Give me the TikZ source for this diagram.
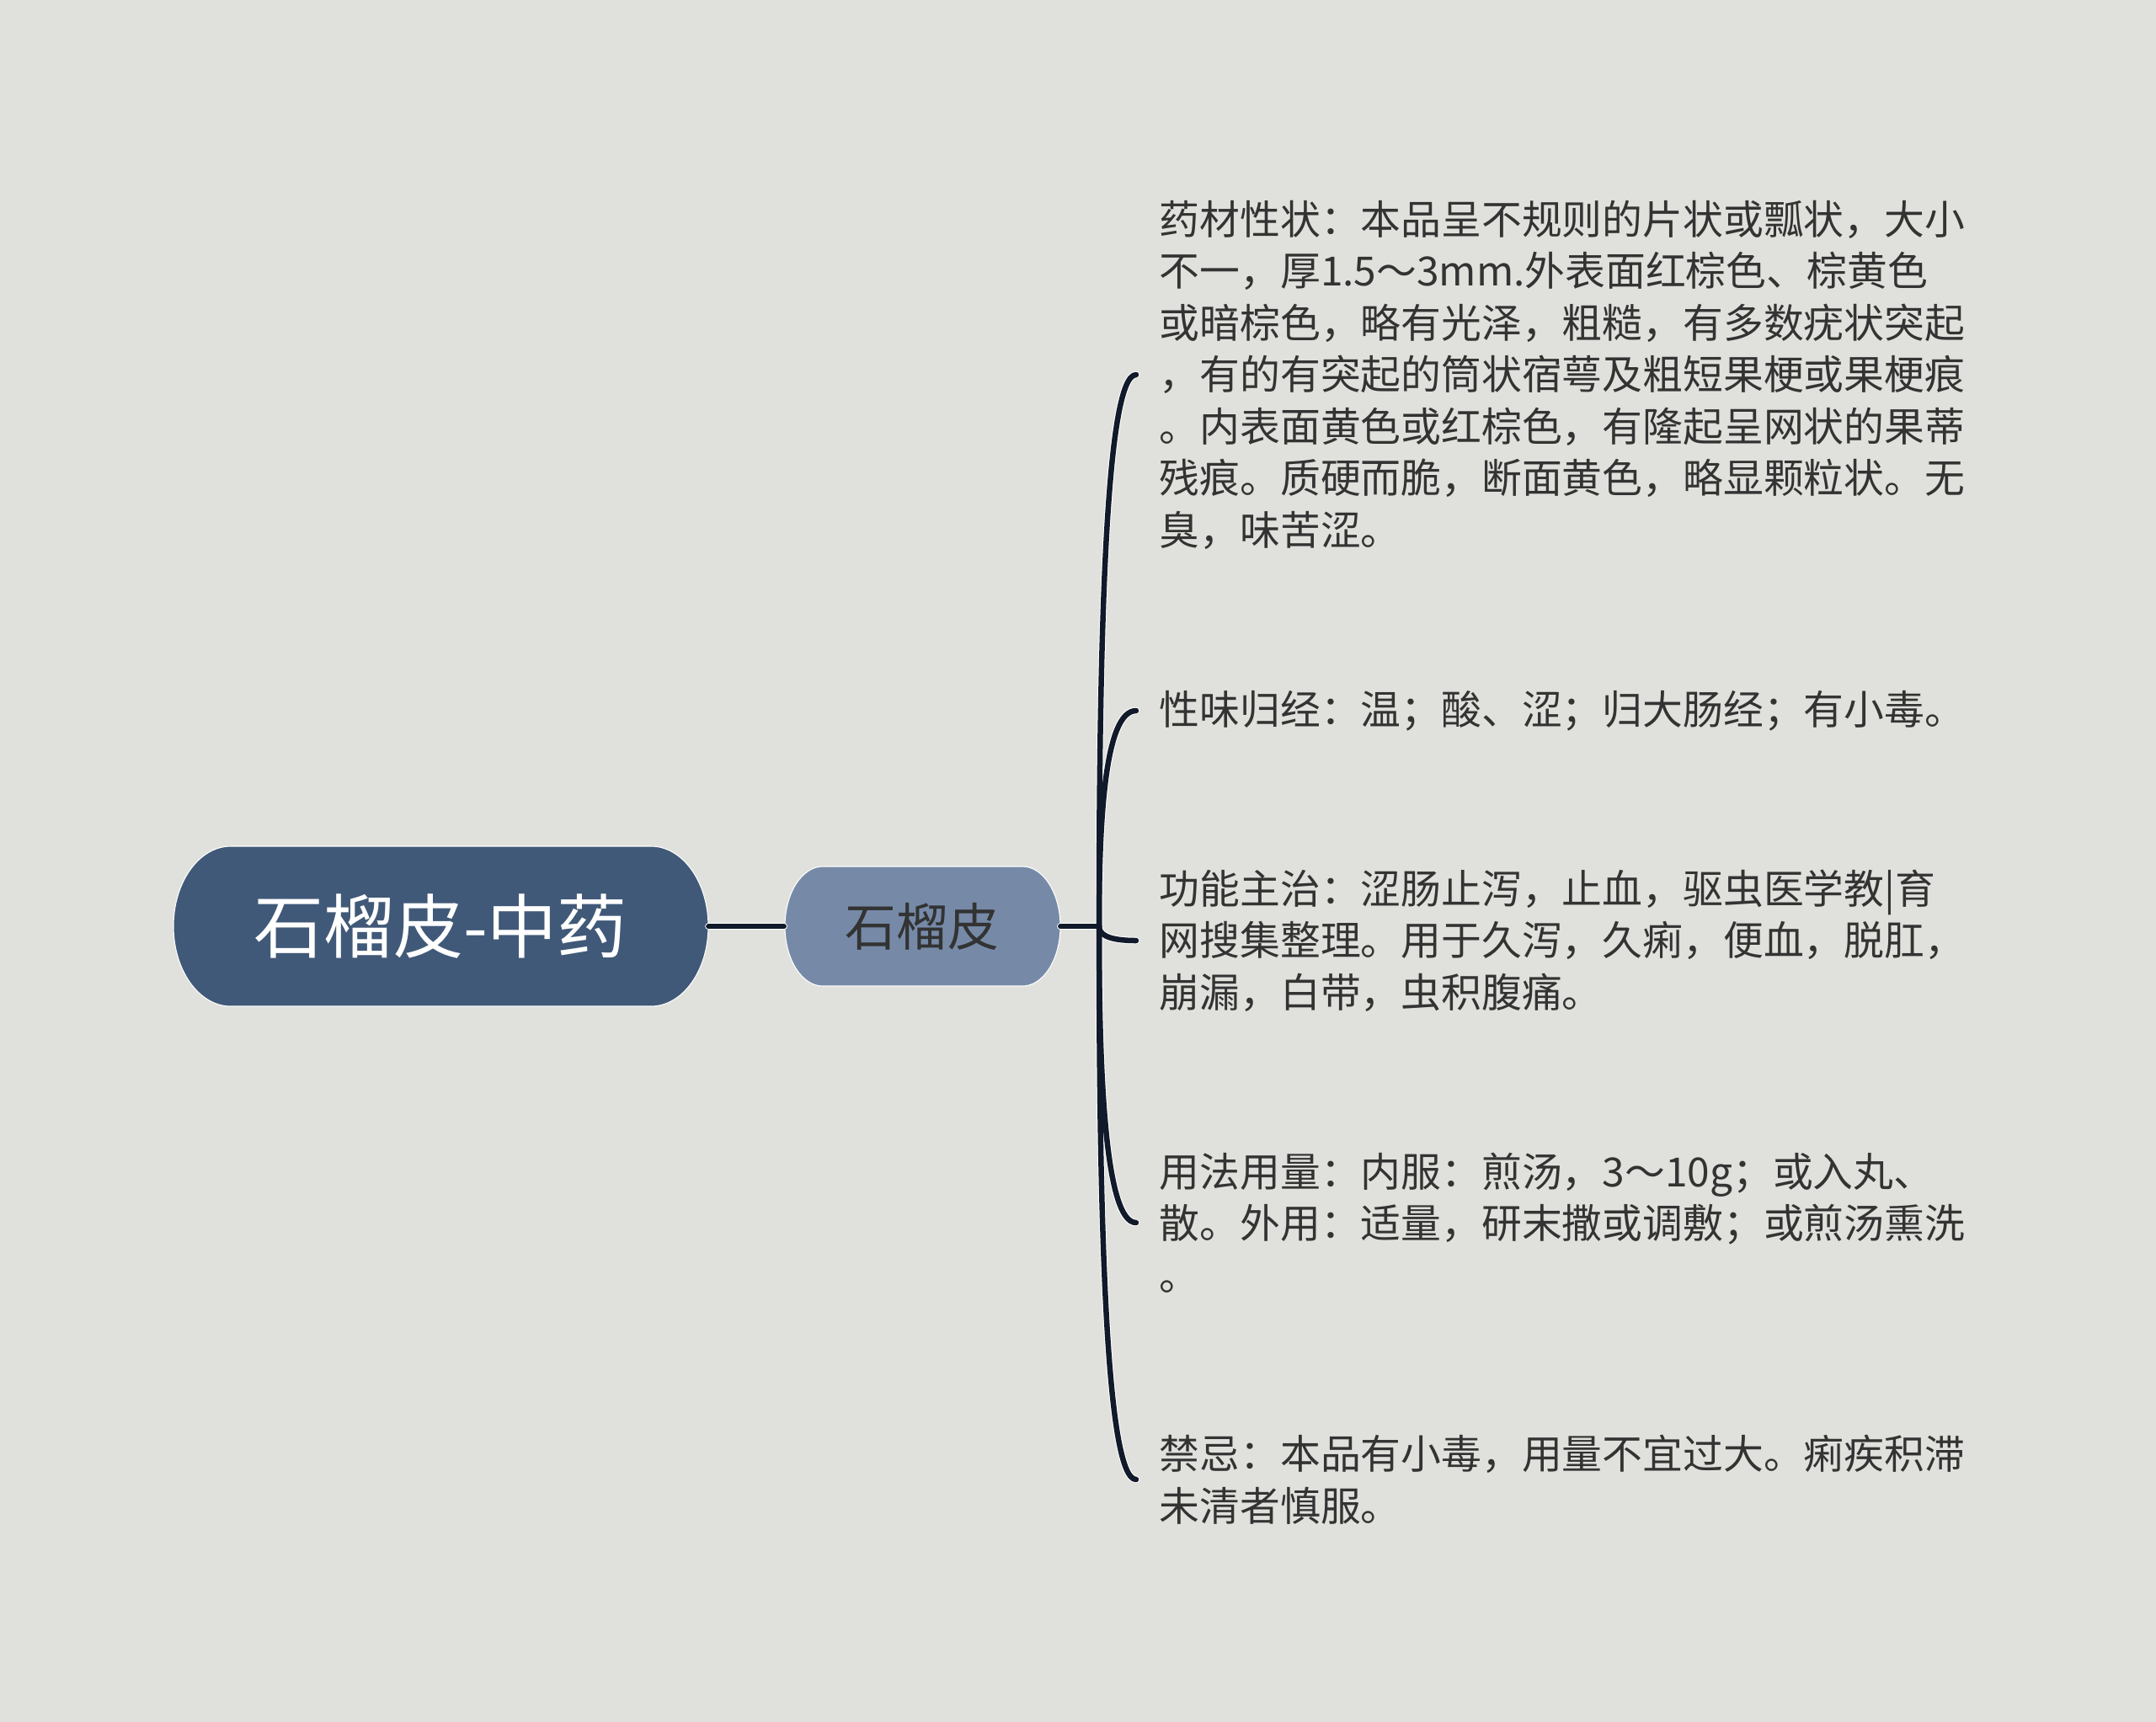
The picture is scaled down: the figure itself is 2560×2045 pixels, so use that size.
\documentclass[tikz,border=0pt]{standalone}
\usepackage{fontspec}
\setmainfont{Noto Sans CJK SC}
\usepackage{xcolor}
\definecolor{bgcol}{RGB}{224,225,220}
\definecolor{rootcol}{RGB}{65,89,120}
\definecolor{subcol}{RGB}{118,138,168}
\definecolor{linecol}{RGB}{17,26,42}
\definecolor{txtcol}{RGB}{51,51,51}
\tikzstyle{branch} = [draw=linecol,line width=0.065cm,line cap=round]
\tikzstyle{halo} = [draw=white,line width=0.085cm,line cap=round]

\begin{document}
\begin{tikzpicture}
        [
            x=0.01cm,y=-0.01cm,
            rootbox/.style={rectangle,minimum width=6.35cm,minimum height=1.91cm,text=white,
                font=\fontsize{23.6}{28}\selectfont},
            subbox/.style={rectangle,minimum width=3.27cm,minimum height=1.42cm,text=txtcol,
                font=\fontsize{17.3}{21}\selectfont},
            pill/.style={draw=white,line width=0.3pt},
            leaf/.style={anchor=west,inner ysep=0pt,inner xsep=0.27cm,align=left,text=txtcol,
                font=\fontsize{13.6}{17.5}\selectfont},
        ]

    \useasboundingbox (0,0) rectangle (2560,2045);
    \fill[bgcol] (0,0) rectangle (2560,2045);

    % pill shapes with elliptic ends
    \path[pill,fill=rootcol] (274,1005) -- (773,1005)
        arc[start angle=-90,end angle=90,x radius=68,y radius=95] -- (274,1195)
        arc[start angle=90,end angle=270,x radius=68,y radius=95] -- cycle;
    \path[pill,fill=subcol] (977,1029) -- (1214,1029)
        arc[start angle=-90,end angle=90,x radius=45,y radius=71] -- (977,1171)
        arc[start angle=90,end angle=270,x radius=45,y radius=71] -- cycle;

    \node[rootbox] (root) at (523,1100) {石榴皮-中药};
    \node[subbox] (sub) at (1095,1100) {石榴皮};
    \coordinate (hub) at (1305,1100);

    \node[leaf] (d1) at (1349,445) {药材性状：本品呈不规则的片状或瓢状，大小\\
        不一，厚1.5～3mm.外表面红棕色、棕黄色\\
        或暗棕色，略有光泽，粗糙，有多数疣状突起\\
        ，有的有突起的筒状宿萼及粗短果梗或果梗痕\\
        。内表面黄色或红棕色，有隆起呈网状的果蒂\\
        残痕。质硬而脆，断面黄色，略显颗粒状。无\\
        臭，味苦涩。};
    \node[leaf] (d2) at (1349,844) {性味归经：温；酸、涩；归大肠经；有小毒。};
    \node[leaf] (d3) at (1349,1117) {功能主治：涩肠止泻，止血，驱虫医学教|育\\
        网搜集整理。用于久泻，久痢，便血，脱肛，\\
        崩漏，白带，虫积腹痛。};
    \node[leaf] (d4) at (1349,1452) {用法用量：内服：煎汤，3～10g；或入丸、\\
        散。外用：适量，研末撒或调敷；或煎汤熏洗\\
        。};
    \node[leaf] (d5) at (1349,1757) {禁忌：本品有小毒，用量不宜过大。痢疾积滞\\
        未清者慎服。};

    % white edge first, dark line on top
    \draw[halo] (root.east) -- (sub.west);
    \draw[halo] (sub.east) -- (hub);
    \foreach \n/\dy in {d1/-328,d2/-128,d3/8,d4/174,d5/328}
        \draw[halo] (hub) .. controls +(0,\dy) and +(-37,0) .. (\n.west);

    \draw[branch] (root.east) -- (sub.west);
    \draw[branch] (sub.east) -- (hub);
    \foreach \n/\dy in {d1/-328,d2/-128,d3/8,d4/174,d5/328}
        \draw[branch] (hub) .. controls +(0,\dy) and +(-37,0) .. (\n.west);
    \end{tikzpicture}
\end{document}
